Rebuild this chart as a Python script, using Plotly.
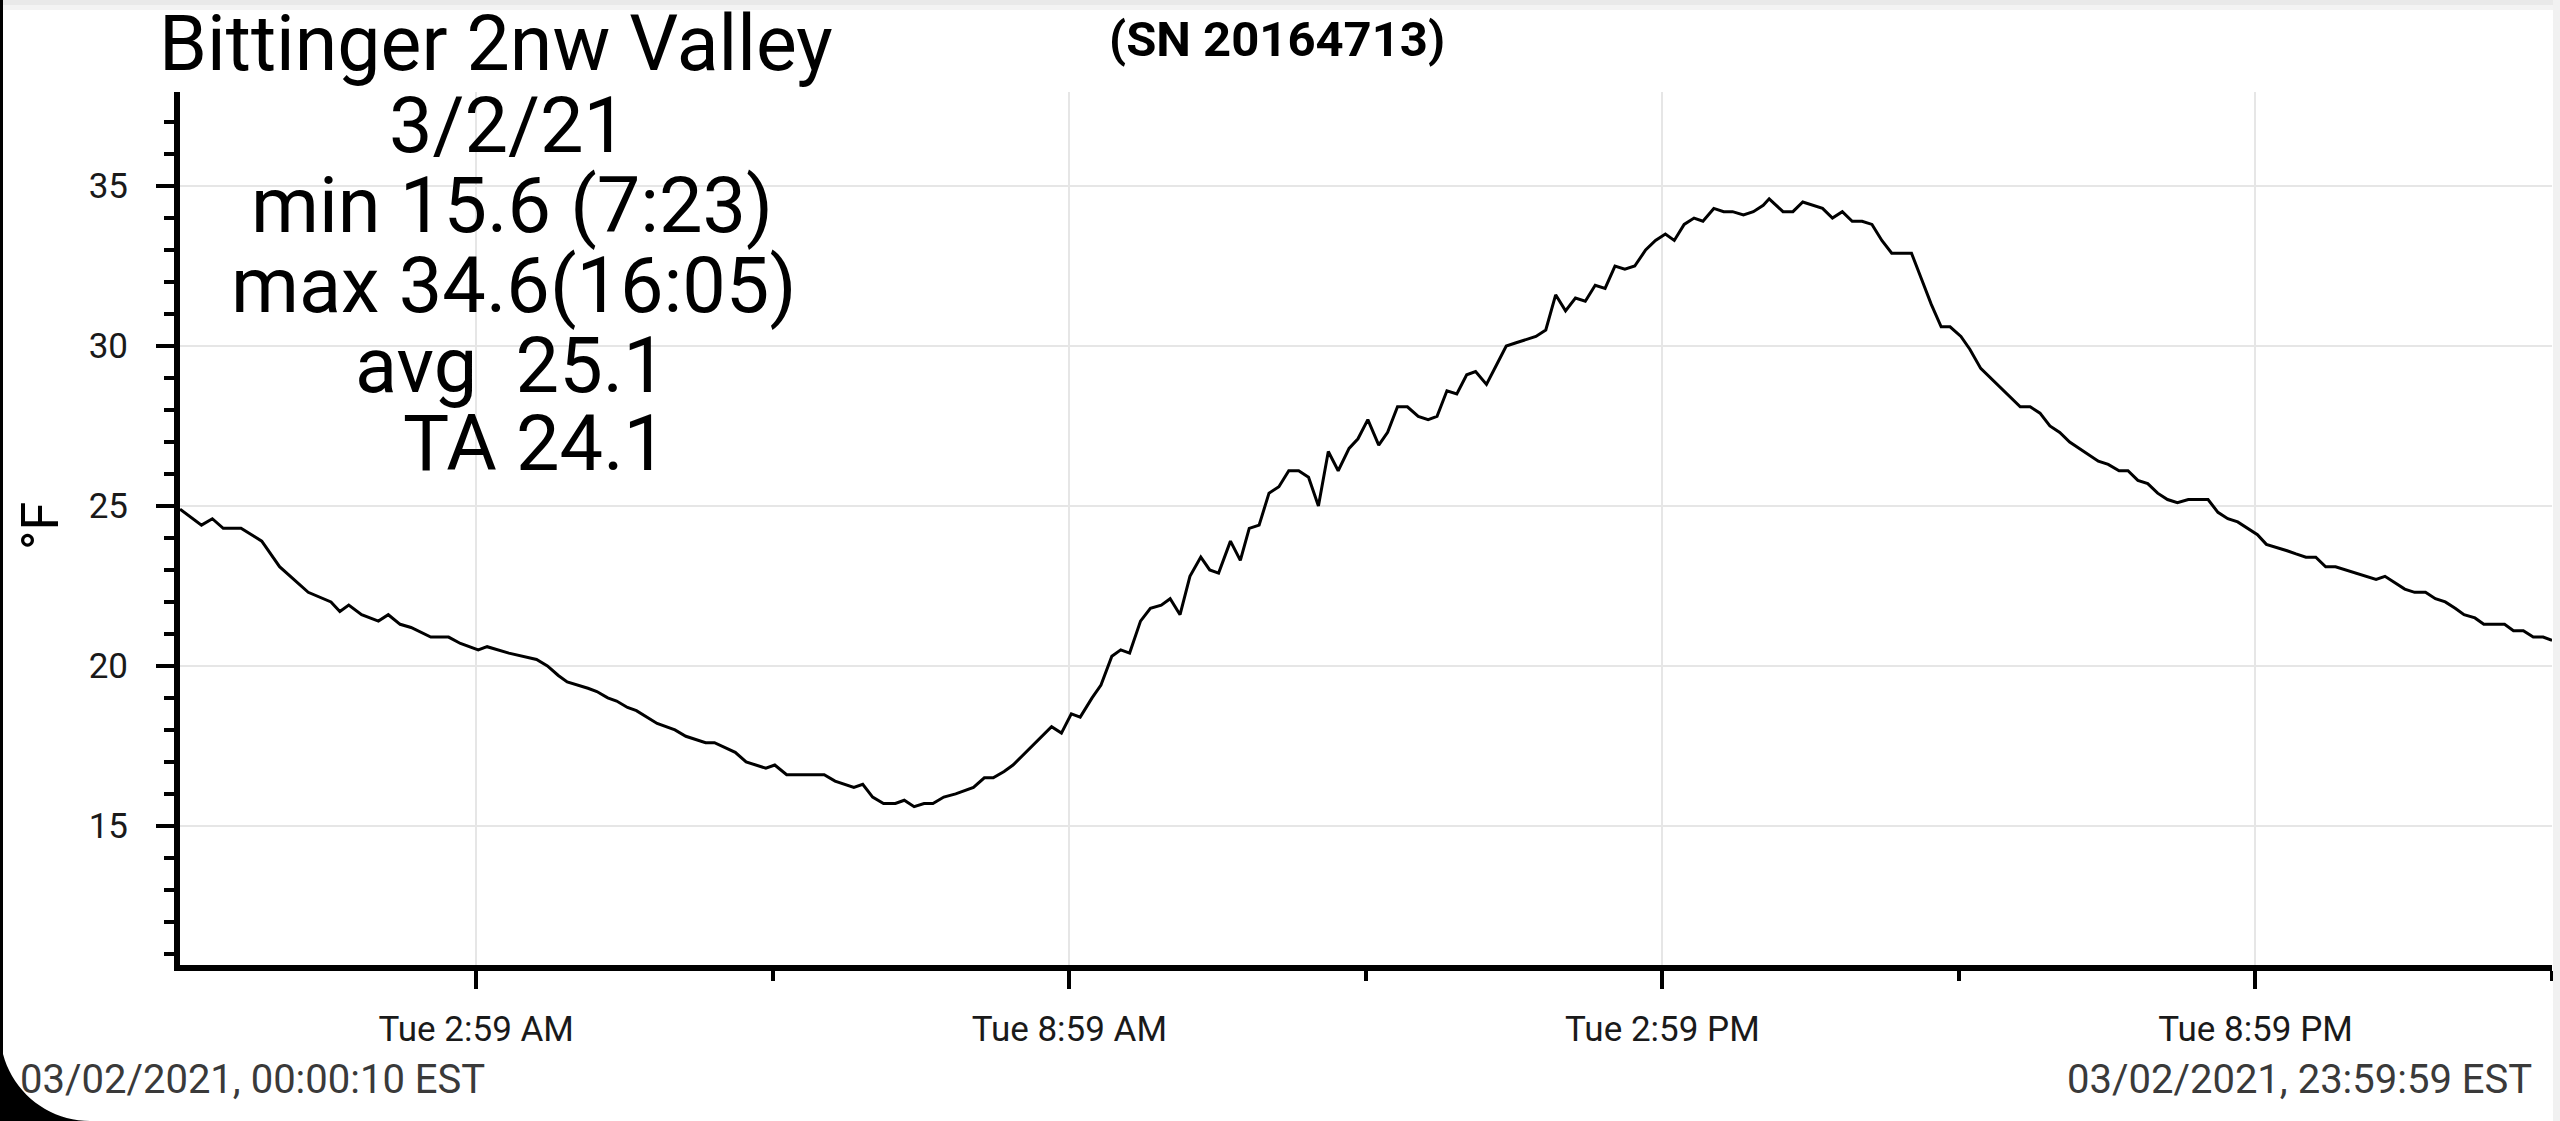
# standard
import math

# pypi
import pandas as pd
import plotly.graph_objects as go

# globals
PLOTLY_OUTPUT_FILE = "out.html"
FONT = "Roboto"

# logger readings for Tue 3/2/21: hours after midnight and temperature in °F
HOURS = [
    0.003, 0.22, 0.33, 0.44, 0.62, 0.83, 1.01, 1.12, 1.30, 1.53,
    1.62, 1.71, 1.84, 2.01, 2.11, 2.23, 2.34, 2.54, 2.72, 2.84,
    3.02, 3.11, 3.33, 3.61, 3.72, 3.83, 3.92, 4.13, 4.22, 4.33,
    4.42, 4.53, 4.62, 4.83, 5.01, 5.12, 5.21, 5.32, 5.41, 5.62,
    5.73, 5.82, 5.93, 6.02, 6.14, 6.32, 6.43, 6.52, 6.63, 6.72,
    6.82, 6.91, 7.01, 7.12, 7.24, 7.33, 7.43, 7.53, 7.62, 7.73,
    7.85, 8.03, 8.14, 8.23, 8.34, 8.43, 8.53, 8.73, 8.82, 8.92,
    9.02, 9.11, 9.23, 9.32, 9.43, 9.52, 9.61, 9.72, 9.82, 9.93,
    10.02, 10.12, 10.22, 10.33, 10.42, 10.51, 10.63, 10.73, 10.82, 10.92,
    11.02, 11.12, 11.22, 11.32, 11.42, 11.52, 11.62, 11.72, 11.83, 11.92,
    12.02, 12.13, 12.22, 12.32, 12.42, 12.53, 12.63, 12.72, 12.82, 12.92,
    13.02, 13.11, 13.22, 13.32, 13.42, 13.52, 13.62, 13.72, 13.82, 13.92,
    14.02, 14.12, 14.22, 14.32, 14.42, 14.52, 14.62, 14.72, 14.83, 14.93,
    15.03, 15.12, 15.22, 15.32, 15.41, 15.52, 15.62, 15.71, 15.82, 15.92,
    16.02, 16.08, 16.22, 16.32, 16.42, 16.52, 16.62, 16.72, 16.82, 16.92,
    17.02, 17.12, 17.22, 17.32, 17.42, 17.52, 17.62, 17.72, 17.82, 17.91,
    18.02, 18.11, 18.22, 18.32, 18.42, 18.52, 18.62, 18.72, 18.82, 18.92,
    19.02, 19.12, 19.22, 19.32, 19.41, 19.51, 19.62, 19.71, 19.81, 19.91,
    20.01, 20.11, 20.21, 20.32, 20.42, 20.52, 20.62, 20.72, 20.82, 20.92,
    21.02, 21.11, 21.22, 21.32, 21.41, 21.51, 21.61, 21.71, 21.81, 21.91,
    22.01, 22.11, 22.22, 22.31, 22.41, 22.51, 22.61, 22.72, 22.82, 22.92,
    23.02, 23.11, 23.22, 23.31, 23.41, 23.52, 23.61, 23.71, 23.81, 23.91,
    24.0,
]
TEMPS_F = [
    24.9, 24.4, 24.6, 24.3, 24.3, 23.9, 23.1, 22.8, 22.3, 22.0,
    21.7, 21.9, 21.6, 21.4, 21.6, 21.3, 21.2, 20.9, 20.9, 20.7,
    20.5, 20.6, 20.4, 20.2, 20.0, 19.7, 19.5, 19.3, 19.2, 19.0,
    18.9, 18.7, 18.6, 18.2, 18.0, 17.8, 17.7, 17.6, 17.6, 17.3,
    17.0, 16.9, 16.8, 16.9, 16.6, 16.6, 16.6, 16.6, 16.4, 16.3,
    16.2, 16.3, 15.9, 15.7, 15.7, 15.8, 15.6, 15.7, 15.7, 15.9,
    16.0, 16.2, 16.5, 16.5, 16.7, 16.9, 17.2, 17.8, 18.1, 17.9,
    18.5, 18.4, 19.0, 19.4, 20.3, 20.5, 20.4, 21.4, 21.8, 21.9,
    22.1, 21.6, 22.8, 23.4, 23.0, 22.9, 23.9, 23.3, 24.3, 24.4,
    25.4, 25.6, 26.1, 26.1, 25.9, 25.0, 26.7, 26.1, 26.8, 27.1,
    27.7, 26.9, 27.3, 28.1, 28.1, 27.8, 27.7, 27.8, 28.6, 28.5,
    29.1, 29.2, 28.8, 29.4, 30.0, 30.1, 30.2, 30.3, 30.5, 31.6,
    31.1, 31.5, 31.4, 31.9, 31.8, 32.5, 32.4, 32.5, 33.0, 33.3,
    33.5, 33.3, 33.8, 34.0, 33.9, 34.3, 34.2, 34.2, 34.1, 34.2,
    34.4, 34.6, 34.2, 34.2, 34.5, 34.4, 34.3, 34.0, 34.2, 33.9,
    33.9, 33.8, 33.3, 32.9, 32.9, 32.9, 32.1, 31.3, 30.6, 30.6,
    30.3, 29.9, 29.3, 29.0, 28.7, 28.4, 28.1, 28.1, 27.9, 27.5,
    27.3, 27.0, 26.8, 26.6, 26.4, 26.3, 26.1, 26.1, 25.8, 25.7,
    25.4, 25.2, 25.1, 25.2, 25.2, 25.2, 24.8, 24.6, 24.5, 24.3,
    24.1, 23.8, 23.7, 23.6, 23.5, 23.4, 23.4, 23.1, 23.1, 23.0,
    22.9, 22.8, 22.7, 22.8, 22.6, 22.4, 22.3, 22.3, 22.1, 22.0,
    21.8, 21.6, 21.5, 21.3, 21.3, 21.3, 21.1, 21.1, 20.9, 20.9,
    20.8,
]

DAY = "2021-03-02"
X_START = "2021-03-02 00:00:10"
X_END = "2021-03-02 23:59:59"
Y_RANGE = [10.65, 37.94]
Y_MAJOR = [15, 20, 25, 30, 35]

MAJOR_TICKS = ["2021-03-02 02:59:59", "2021-03-02 08:59:59",
               "2021-03-02 14:59:59", "2021-03-02 20:59:59"]
MAJOR_LABELS = ["Tue 2:59 AM", "Tue 8:59 AM", "Tue 2:59 PM", "Tue 8:59 PM"]
MINOR_TICKS = ["2021-03-02 05:59:59", "2021-03-02 11:59:59",
               "2021-03-02 17:59:59", "2021-03-02 23:59:59"]

STATION = "Bittinger 2nw Valley"
SERIAL = "(SN 20164713)"
NOTE_LINES = ["3/2/21", "min 15.6 (7:23)", "max 34.6(16:05)",
              "avg\u00a0 25.1", "TA 24.1"]
START_STAMP = "03/02/2021, 00:00:10 EST"
END_STAMP = "03/02/2021, 23:59:59 EST"

# page geometry in pixels
WIDTH, HEIGHT = 2560, 1121
PLOT_L, PLOT_R, PLOT_T, PLOT_B = 180, 2552, 92, 965


def to_paper(px, py):
    return ((px - PLOT_L) / (PLOT_R - PLOT_L),
            (PLOT_B - py) / (PLOT_B - PLOT_T))


def text_note(text, px, py, size, bold=False, anchor="center", color="black"):
    x, y = to_paper(px, py)
    return dict(
        text=f"<b>{text}</b>" if bold else text,
        x=x, y=y, xref="paper", yref="paper",
        xanchor=anchor, yanchor="middle", showarrow=False,
        font={"family": FONT, "size": size, "color": color},
    )


def paper_rect(x0, y0, x1, y1, color):
    (a, b), (c, d) = to_paper(x0, y0), to_paper(x1, y1)
    return dict(type="rect", xref="paper", yref="paper",
                x0=a, y0=b, x1=c, y1=d, fillcolor=color,
                line={"width": 0}, layer="above")


def corner_path(radius):
    # black rounded screen corner at the bottom left of the screenshot
    pts = [(0, HEIGHT), (0, HEIGHT - radius)]
    for i in range(1, 24):
        t = i / 24 * math.pi / 2
        pts.append((radius - radius * math.cos(t),
                    HEIGHT - radius + radius * math.sin(t)))
    pts.append((radius, HEIGHT))
    coords = [to_paper(px, py) for px, py in pts]
    path = "M " + " L ".join(f"{x:.5f},{y:.5f}" for x, y in coords) + " Z"
    return dict(type="path", xref="paper", yref="paper", path=path,
                fillcolor="black", line={"width": 0}, layer="above")


def main():
    times = pd.Timestamp(DAY) + pd.to_timedelta(HOURS, unit="h")

    fig = go.Figure()
    fig.add_trace(go.Scatter(
        x=times, y=TEMPS_F, mode="lines",
        line={"color": "black", "width": 3},
        showlegend=False, hoverinfo="x+y",
    ))

    axis_common = dict(
        showline=True, linecolor="black", linewidth=6,
        ticks="outside", ticklen=18, tickwidth=4, tickcolor="black",
        showgrid=True, gridcolor="#e6e6e6", gridwidth=2,
        zeroline=False,
        tickfont={"family": FONT, "size": 35, "color": "#1a1a1a"},
    )
    fig.update_xaxes(
        range=[X_START, X_END],
        tickmode="array", tickvals=MAJOR_TICKS, ticktext=MAJOR_LABELS,
        minor={"tickmode": "array", "tickvals": MINOR_TICKS,
               "ticks": "outside", "ticklen": 10, "tickwidth": 4,
               "tickcolor": "black", "showgrid": False},
        ticklabelstandoff=10,
        **axis_common,
    )
    fig.update_yaxes(
        range=Y_RANGE,
        tickmode="array", tickvals=Y_MAJOR,
        minor={"tick0": 0, "dtick": 1,
               "ticks": "outside", "ticklen": 10, "tickwidth": 4,
               "tickcolor": "black", "showgrid": False},
        ticklabelstandoff=21,
        **axis_common,
    )

    notes = [
        text_note(STATION, 496, 44, 77),
        text_note(SERIAL, 1277, 40, 49, bold=True),
        text_note("°F", 40, 526, 52),
        text_note(START_STAMP, 18, 1079, 40, anchor="left", color="#3a3a3a"),
        text_note(END_STAMP, 2534, 1079, 40, anchor="right", color="#3a3a3a"),
    ]
    notes[2]["textangle"] = -90
    note_x = [508, 512, 513, 511, 535]
    note_y = [126, 205, 285, 365, 443]
    for line, nx, ny in zip(NOTE_LINES, note_x, note_y):
        notes.append(text_note(line, nx, ny, 77.5))

    shapes = [
        paper_rect(0, 0, WIDTH, 5, "#e9e9e9"),
        paper_rect(0, 5, WIDTH, 10, "#f3f3f3"),
        paper_rect(0, 0, 3, HEIGHT, "black"),
        paper_rect(2553, 0, WIDTH, HEIGHT, "#f1f1f1"),
        corner_path(90),
    ]

    fig.update_layout(
        width=WIDTH, height=HEIGHT,
        margin={"l": PLOT_L, "r": WIDTH - PLOT_R,
                "t": PLOT_T, "b": HEIGHT - PLOT_B},
        paper_bgcolor="white", plot_bgcolor="white",
        font={"family": FONT, "color": "black"},
        annotations=notes, shapes=shapes,
    )

    # drop the browser's default page margin so the figure sits at 0,0
    fig.write_html(PLOTLY_OUTPUT_FILE,
                   config={"displayModeBar": False},
                   post_script="document.body.style.margin='0';")


if __name__ == "__main__":
    main()
